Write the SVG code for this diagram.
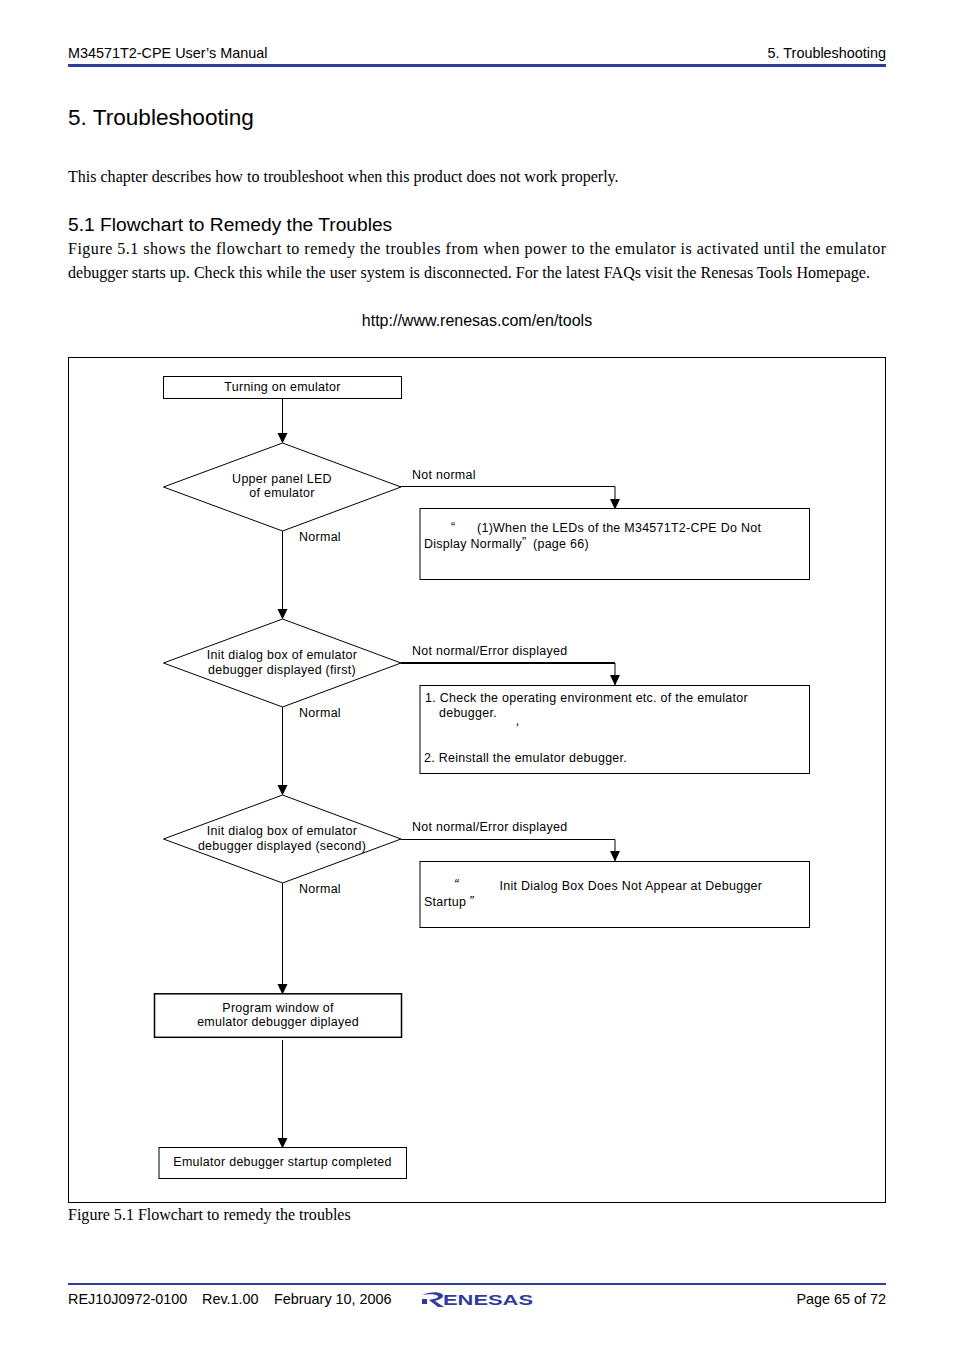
<svg xmlns="http://www.w3.org/2000/svg" width="954" height="1350" viewBox="0 0 954 1350">
<style>
text{font-family:"Liberation Sans",Arial,sans-serif;fill:#000}
.h{font-size:14.4px}
.s{font-family:"Liberation Serif","Times New Roman",serif;font-size:16.05px}
.f{font-size:12.45px;letter-spacing:.29px}
.m{text-anchor:middle}
.q{font-size:13.5px;font-style:italic}
.b{fill:#fff;stroke:#000;stroke-width:1}
.c{fill:none;stroke:#000;stroke-width:1}
.a{fill:#000;stroke:none}
</style>
<defs><marker id="ah" markerWidth="11" markerHeight="11" refX="10" refY="5" orient="auto" markerUnits="userSpaceOnUse"><path class="a" d="M0 0L10.500 5L0 10z"/></marker></defs>
<rect width="954" height="1350" fill="#fff"/>
<g id="page-header">
<text class="h" x="68" y="58">M34571T2-CPE User’s Manual</text>
<text class="h" x="886" y="58" text-anchor="end">5. Troubleshooting</text>
<rect x="68" y="64" width="818" height="3" fill="#2f3c9e"/>
</g>
<g id="page-body">
<text x="68" y="124.500" font-size="22.6">5. Troubleshooting</text>
<text class="s" x="68" y="182">This chapter describes how to troubleshoot when this product does not work properly.</text>
<text x="68" y="231" font-size="19.2">5.1 Flowchart to Remedy the Troubles</text>
<text class="s" x="68" y="254" textLength="818" lengthAdjust="spacing">Figure 5.1 shows the flowchart to remedy the troubles from when power to the emulator is activated until the emulator</text>
<text class="s" x="68" y="278" textLength="802" lengthAdjust="spacing">debugger starts up. Check this while the user system is disconnected. For the latest FAQs visit the Renesas Tools Homepage.</text>
<text x="477" y="326" font-size="16" class="m">http://www.renesas.com/en/tools</text>
<text class="s" x="68" y="1220">Figure 5.1 Flowchart to remedy the troubles</text>
</g>
<rect id="figure-frame" x="68.5" y="357.5" width="817" height="845" fill="none" stroke="#000" stroke-width="1"/>
<g id="connectors">
<path class="c" d="M282.500 399V443" marker-end="url(#ah)"/>
<path class="c" d="M282.500 531V619" marker-end="url(#ah)"/>
<path class="c" d="M282.500 707V795" marker-end="url(#ah)"/>
<path class="c" d="M282.500 883V994" marker-end="url(#ah)"/>
<path class="c" d="M282.500 1040V1148" marker-end="url(#ah)"/>
<path class="c" d="M401 486.500H615V509" marker-end="url(#ah)"/>
<path class="c" style="stroke-width:2" d="M401 663H615" />
<path class="c" d="M615 663V685" marker-end="url(#ah)"/>
<path class="c" d="M401 839.500H615V861" marker-end="url(#ah)"/>
</g>
<g id="n-start"><rect class="b" x="163.500" y="376.500" width="238" height="22"/><text class="f m" x="282.500" y="391">Turning on emulator</text></g>
<g id="n-d1"><path class="b" d="M282.500 443L401 487L282.500 531L163.500 487Z"/><text class="f m" x="282" y="483">Upper panel LED</text><text class="f m" x="282" y="497">of emulator</text></g>
<g id="n-d2"><path class="b" d="M282.500 619L401 663L282.500 707L163.500 663Z"/><text class="f m" x="282" y="659">Init dialog box of emulator</text><text class="f m" x="282" y="674">debugger displayed (first)</text></g>
<g id="n-d3"><path class="b" d="M282.500 795L401 839L282.500 883L163.500 839Z"/><text class="f m" x="282" y="835">Init dialog box of emulator</text><text class="f m" x="282" y="850">debugger displayed (second)</text></g>
<g id="n-r1"><rect class="b" x="420" y="508.500" width="389.500" height="71"/><text class="f" x="451" y="531">“</text><text class="f" x="477" y="532">(1)When the LEDs of the M34571T2-CPE Do Not</text><text class="f" x="424" y="548">Display Normally</text><text class="f" x="522" y="546">”</text><text class="f" x="533" y="548">(page 66)</text></g>
<g id="n-r2"><rect class="b" x="420" y="685.500" width="389.500" height="88"/><text class="f" x="425" y="702">1. Check the operating environment etc. of the emulator</text><text class="f" x="439" y="717">debugger.</text><text class="q" x="516" y="725">,</text><text class="f" x="424" y="762">2. Reinstall the emulator debugger.</text></g>
<g id="n-r3"><rect class="b" x="420" y="861.500" width="389.500" height="66"/><text class="q" x="454" y="888">“</text><text class="f" x="499.500" y="890">Init Dialog Box Does Not Appear at Debugger</text><text class="f" x="424" y="906">Startup</text><text class="q" x="469" y="905">”</text></g>
<g id="n-program"><rect class="b" style="stroke-width:1.500" x="154.500" y="993.800" width="247" height="43.500"/><text class="f m" x="278" y="1012">Program window of</text><text class="f m" x="278" y="1026">emulator debugger diplayed</text></g>
<g id="n-done"><rect class="b" x="159" y="1147.500" width="247.500" height="31"/><text class="f m" x="282.500" y="1166">Emulator debugger startup completed</text></g>
<g id="edge-labels">
<text class="f" x="412" y="479">Not normal</text>
<text class="f m" x="320" y="541">Normal</text>
<text class="f" x="412" y="655">Not normal/Error displayed</text>
<text class="f m" x="320" y="717">Normal</text>
<text class="f" x="412" y="831">Not normal/Error displayed</text>
<text class="f m" x="320" y="893">Normal</text>
</g>
<g id="page-footer">
<rect x="68" y="1283" width="818" height="2" fill="#2f3c9e"/>
<text class="h" x="68" y="1304">REJ10J0972-0100</text>
<text class="h" x="202" y="1304">Rev.1.00</text>
<text class="h" x="274" y="1304">February 10, 2006</text>
<text class="h" x="886" y="1304" text-anchor="end">Page 65 of 72</text>
<g id="logo"><rect x="422" y="1299" width="5" height="5" fill="#2f3c9e"/><path d="M422 1295C428 1292 438 1291 442 1294C445 1297 441 1299 435 1301L444 1307L438 1307L429 1300C434 1299 439 1298 438 1296C436 1294 428 1294 422 1295Z" fill="#2f3c9e"/><text x="443" y="1305" font-size="14" font-weight="700" textLength="90" lengthAdjust="spacingAndGlyphs" style="fill:#2f3c9e">ENESAS</text></g>
</g>
</svg>
